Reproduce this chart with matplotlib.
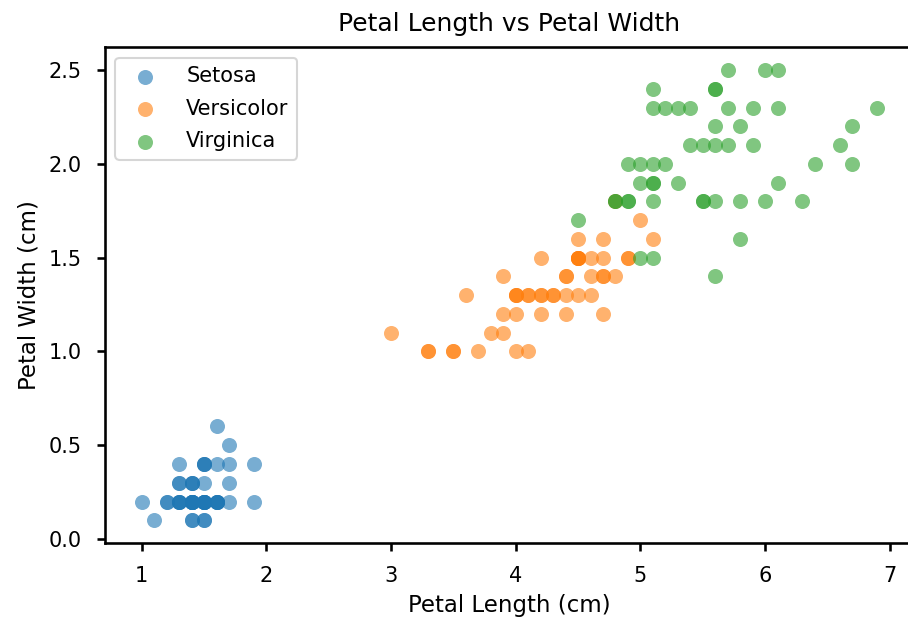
import numpy as np
import matplotlib
matplotlib.use("Agg")
import matplotlib.pyplot as plt

# iris petal measurements (length, width)
setosa_len = [1.4, 1.4, 1.3, 1.5, 1.4, 1.7, 1.4, 1.5, 1.4, 1.5, 1.5, 1.6, 1.4, 1.1, 1.2, 1.5, 1.3, 1.4, 1.7, 1.5,
              1.7, 1.5, 1.0, 1.7, 1.9, 1.6, 1.6, 1.5, 1.4, 1.6, 1.6, 1.5, 1.5, 1.4, 1.5, 1.2, 1.3, 1.4, 1.3, 1.5,
              1.3, 1.3, 1.3, 1.6, 1.9, 1.4, 1.6, 1.4, 1.5, 1.4]
setosa_wid = [0.2, 0.2, 0.2, 0.2, 0.2, 0.4, 0.3, 0.2, 0.2, 0.1, 0.2, 0.2, 0.1, 0.1, 0.2, 0.4, 0.4, 0.3, 0.3, 0.3,
              0.2, 0.4, 0.2, 0.5, 0.2, 0.2, 0.4, 0.2, 0.2, 0.2, 0.2, 0.4, 0.1, 0.2, 0.2, 0.2, 0.2, 0.1, 0.2, 0.2,
              0.3, 0.3, 0.2, 0.6, 0.4, 0.3, 0.2, 0.2, 0.2, 0.2]

versicolor_len = [4.7, 4.5, 4.9, 4.0, 4.6, 4.5, 4.7, 3.3, 4.6, 3.9, 3.5, 4.2, 4.0, 4.7, 3.6, 4.4, 4.5, 4.1, 4.5, 3.9,
                  4.8, 4.0, 4.9, 4.7, 4.3, 4.4, 4.8, 5.0, 4.5, 3.5, 3.8, 3.7, 3.9, 5.1, 4.5, 4.5, 4.7, 4.4, 4.1, 4.0,
                  4.4, 4.6, 4.0, 3.3, 4.2, 4.2, 4.2, 4.3, 3.0, 4.1]
versicolor_wid = [1.4, 1.5, 1.5, 1.3, 1.5, 1.3, 1.6, 1.0, 1.3, 1.4, 1.0, 1.5, 1.0, 1.4, 1.3, 1.4, 1.5, 1.0, 1.5, 1.1,
                  1.8, 1.3, 1.5, 1.2, 1.3, 1.4, 1.4, 1.7, 1.5, 1.0, 1.1, 1.0, 1.2, 1.6, 1.5, 1.6, 1.5, 1.3, 1.3, 1.3,
                  1.2, 1.4, 1.2, 1.0, 1.3, 1.2, 1.3, 1.3, 1.1, 1.3]

virginica_len = [6.0, 5.1, 5.9, 5.6, 5.8, 6.6, 4.5, 6.3, 5.8, 6.1, 5.1, 5.3, 5.5, 5.0, 5.1, 5.3, 5.5, 6.7, 6.9, 5.0,
                 5.7, 4.9, 6.7, 4.9, 5.7, 6.0, 4.8, 4.9, 5.6, 5.8, 6.1, 6.4, 5.6, 5.1, 5.6, 6.1, 5.6, 5.5, 4.8, 5.4,
                 5.6, 5.1, 5.1, 5.9, 5.7, 5.2, 5.0, 5.2, 5.4, 5.1]
virginica_wid = [2.5, 1.9, 2.1, 1.8, 2.2, 2.1, 1.7, 1.8, 1.8, 2.5, 2.0, 1.9, 2.1, 2.0, 2.4, 2.3, 1.8, 2.2, 2.3, 1.5,
                 2.3, 2.0, 2.0, 1.8, 2.1, 1.8, 1.8, 1.8, 2.1, 1.6, 1.9, 2.0, 2.2, 1.5, 1.4, 2.3, 2.4, 1.8, 1.8, 2.1,
                 2.4, 2.3, 1.9, 2.3, 2.5, 2.3, 1.9, 2.0, 2.3, 1.8]

species = ["Setosa", "Versicolor", "Virginica"]


def main():
    plt.rcParams['axes.linewidth'] = 1.25
    plt.rcParams['xtick.major.width'] = 1.25
    plt.rcParams['ytick.major.width'] = 1.25
    plt.rcParams['xtick.major.size'] = 4
    plt.rcParams['ytick.major.size'] = 4
    plt.rcParams['xtick.major.pad'] = 7
    plt.rcParams['ytick.major.pad'] = 7

    fig = plt.figure(figsize=(9.08 / 1.5, 6.25 / 1.5), dpi=150)
    # right spine falls just outside the picture, as in the reference
    ax = fig.add_axes([105 / 908, 82.2 / 625, 809 / 908, 495.3 / 625])

    groups = [(setosa_len, setosa_wid), (versicolor_len, versicolor_wid), (virginica_len, virginica_wid)]
    for name, (x, y) in zip(species, groups):
        ax.scatter(x, y, s=52, alpha=0.6, linewidths=0, label=name)

    ax.set_title("Petal Length vs Petal Width", fontsize=12, pad=8)
    ax.set_xlabel("Petal Length (cm)", fontsize=11)
    ax.set_ylabel("Petal Width (cm)", fontsize=11)
    ax.legend(loc="upper left", fontsize=10, handletextpad=1.0, labelspacing=0.6)

    fig.savefig("out.png", dpi=150)


if __name__ == "__main__":
    main()
